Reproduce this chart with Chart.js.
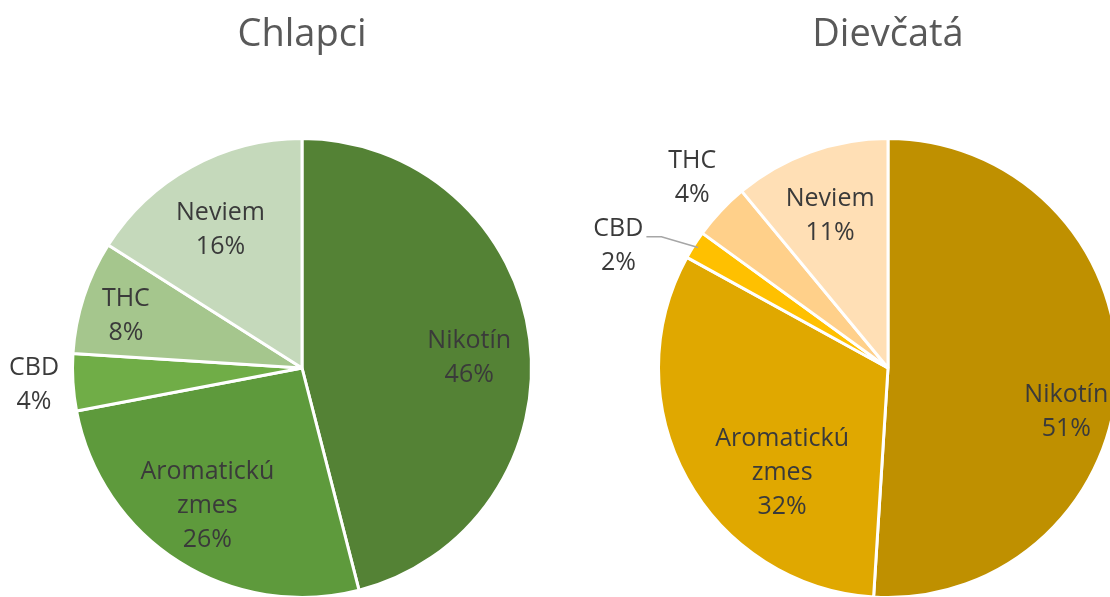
<!DOCTYPE html>
<html>
<head>
<meta charset="utf-8">
<script src="https://cdn.jsdelivr.net/npm/chart.js@4"></script>
<style>
  html, body { margin: 0; padding: 0; background: #fff; }
  body { width: 1110px; height: 597px; overflow: hidden; position: relative; }
  .box { position: absolute; top: 0; width: 604px; height: 602px; }
  #boysBox { left: 0; }
  #girlsBox { left: 586px; }
</style>
</head>
<body>
<div class="box" id="boysBox"><canvas id="boysChart"></canvas></div>
<div class="box" id="girlsBox"><canvas id="girlsChart"></canvas></div>
<script>
// Data
const categories = ['Nikotín', 'Aromatickú zmes', 'CBD', 'THC', 'Neviem'];
const boysValues = [46, 26, 4, 8, 16];
const girlsValues = [51, 32, 2, 4, 11];

const boysColors = ['#548235', '#5e9a3c', '#70ad47', '#a5c68d', '#c5d9bb'];
const girlsColors = ['#bf9000', '#e0a800', '#ffc000', '#ffd08a', '#ffdfb5'];

// label placement per slice: [radius factor, angle nudge in degrees]
const boysLabelPos = [[0.73, 3.8], [0.73, 2], [1.17, 0], [0.80, -1.6], [0.70, -1.7]];
const girlsLabelPos = [[0.80, 12], [0.65, -16], [1.29, -8], [1.19, 1], [0.71, -1]];

const sliceLabels = {
    id: 'sliceLabels',
    afterDatasetsDraw(chart, args, opts) {
        const ctx = chart.ctx;
        const meta = chart.getDatasetMeta(0);
        const values = chart.data.datasets[0].data;
        ctx.save();
        ctx.font = '25px "Open Sans"';
        ctx.fillStyle = '#3a3a3a';
        ctx.textAlign = 'center';
        ctx.textBaseline = 'middle';
        meta.data.forEach((arc, i) => {
            const p = arc.getProps(['x', 'y', 'startAngle', 'endAngle', 'outerRadius'], true);
            const pos = opts.positions[i];
            const mid = (p.startAngle + p.endAngle) / 2 + pos[1] * Math.PI / 180;
            const r = p.outerRadius * pos[0];
            const cx = p.x + Math.cos(mid) * r;
            const cy = p.y + Math.sin(mid) * r;
            const lines = chart.data.labels[i].split(' ').concat(values[i] + '%');
            const lh = 34;
            lines.forEach((t, k) => {
                ctx.fillText(t, cx, cy + (k - (lines.length - 1) / 2) * lh);
            });
            // leader line
            if (opts.leader === i) {
                const w = Math.max(...lines.map(t => ctx.measureText(t).width));
                const amid = (p.startAngle + p.endAngle) / 2;
                const ex = p.x + Math.cos(amid) * p.outerRadius * 0.98;
                const ey = p.y + Math.sin(amid) * p.outerRadius * 0.98;
                const ly = cy - 9;
                const lx = cx + w / 2 + 3;
                ctx.strokeStyle = '#a6a6a6';
                ctx.lineWidth = 1.5;
                ctx.beginPath();
                ctx.moveTo(lx, ly);
                ctx.lineTo(lx + 15, ly);
                ctx.lineTo(ex, ey);
                ctx.stroke();
            }
        });
        ctx.restore();
    }
};

function createPie(canvas, title, values, colors, positions, leader) {
    return new Chart(canvas, {
        type: 'pie',
        data: {
            labels: categories,
            datasets: [{
                data: values,
                backgroundColor: colors,
                borderColor: '#ffffff',
                borderWidth: 3
            }]
        },
        options: {
            responsive: true,
            maintainAspectRatio: false,
            animation: false,
            layout: {
                padding: { left: 71, right: 71, top: 0, bottom: 3 }
            },
            plugins: {
                legend: { display: false },
                tooltip: { enabled: false },
                title: {
                    display: true,
                    text: title,
                    color: '#595959',
                    font: { family: '"Open Sans"', size: 38, weight: 'normal' },
                    padding: { top: 12, bottom: 79.4 }
                },
                sliceLabels: { positions: positions, leader: leader }
            }
        },
        plugins: [sliceLabels]
    });
}

createPie(document.getElementById('boysChart'), 'Chlapci', boysValues, boysColors, boysLabelPos, -1);
createPie(document.getElementById('girlsChart'), 'Dievčatá', girlsValues, girlsColors, girlsLabelPos, 2);
</script>
</body>
</html>
